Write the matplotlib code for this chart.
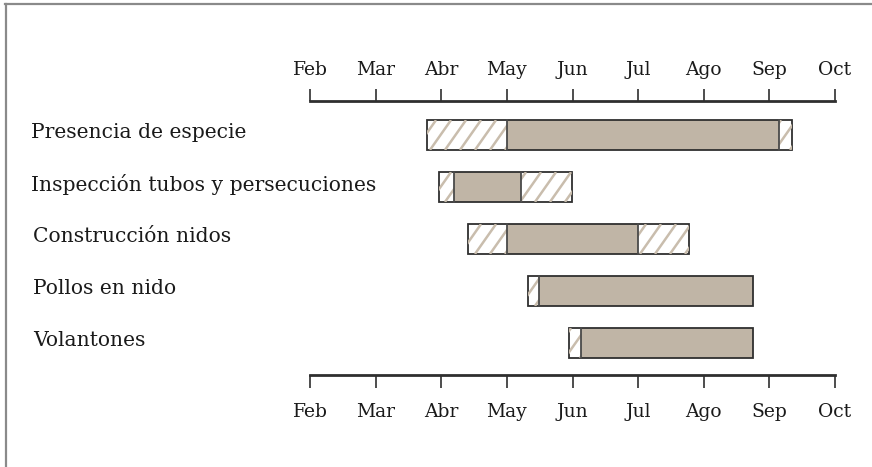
import matplotlib
matplotlib.use("Agg")
import matplotlib.pyplot as plt
from matplotlib.lines import Line2D
from matplotlib.patches import Rectangle
import matplotlib.transforms as mtransforms
import numpy as np

plt.rcParams['font.family'] = ['DejaVu Serif']

months = ["Feb", "Mar", "Abr", "May", "Jun", "Jul", "Ago", "Sep", "Oct"]
activities = ["Presencia de especie", "Inspección tubos y persecuciones",
              "Construcción nidos", "Pollos en nido", "Volantones"]
# month positions (0 = start of Feb)
hatch_start = [1.79, 1.97, 2.41, 3.32, 3.94]
solid_start = [3.00, 2.20, 3.00, 3.49, 4.13]
solid_end = [7.15, 3.22, 5.00, 6.75, 6.75]
hatch_end = [7.34, 3.99, 5.77, 6.75, 6.75]

W, H = 872, 467
fig = plt.figure(figsize=(W / 100, H / 100), dpi=100)
ax = fig.add_axes([310 / W, 1 - 375 / H, 525 / W, 274 / H])

solid_col = '#c0b5a6'
hatch_col = '#c9bdad'
edge_col = '#2f2f2f'
bh = 0.574

xlim = (0, 8)
ylim = (4.615, -0.654)
ax.set_xlim(*xlim)
ax.set_ylim(*ylim)

# pixel scales for the hand-made hatching
ax_w_px = 525.0
ax_h_px = 274.0
px_x = ax_w_px / (xlim[1] - xlim[0])
px_y = ax_h_px / (ylim[0] - ylim[1])
spacing = 15.0 / px_x          # horizontal spacing of hatch lines
lean = 21.0 / px_x             # horizontal shift of a hatch line across the bar


def hatch(x0, x1, yc):
    rect = Rectangle((x0, yc - bh / 2), x1 - x0, bh, facecolor='white',
                     edgecolor='none')
    ax.add_patch(rect)
    k0 = np.floor((x0 - lean) / spacing)
    k1 = np.ceil(x1 / spacing)
    for k in np.arange(k0, k1 + 1):
        xs = k * spacing
        ln, = ax.plot([xs, xs + lean], [yc + bh / 2, yc - bh / 2],
                      color=hatch_col, lw=1.8, solid_capstyle='butt')
        ln.set_clip_path(rect)


for i in range(len(activities)):
    if solid_start[i] > hatch_start[i]:
        hatch(hatch_start[i], solid_start[i], i)
    if hatch_end[i] > solid_end[i]:
        hatch(solid_end[i], hatch_end[i], i)
    ax.barh(i, solid_end[i] - solid_start[i], left=solid_start[i], height=bh,
            color=solid_col, linewidth=0)
    ax.barh(i, hatch_end[i] - hatch_start[i], left=hatch_start[i], height=bh,
            fill=False, edgecolor=edge_col, linewidth=1.3)
    for xv in (solid_start[i], solid_end[i]):
        if hatch_start[i] < xv < hatch_end[i]:
            ax.plot([xv, xv], [i - bh / 2, i + bh / 2], color='#4a4a4a', lw=1.3)

ax.set_xticks(range(len(months)))
ax.set_xticklabels(months)
ax.tick_params(axis='x', which='both', top=True, bottom=True, labeltop=True,
               labelbottom=True, direction='out', length=9, width=1.2,
               color=edge_col, labelsize=13.5, pad=10, labelcolor='#1a1a1a')
ax.set_yticks([])
for s in ('left', 'right'):
    ax.spines[s].set_visible(False)
for s in ('top', 'bottom'):
    ax.spines[s].set_linewidth(2)
    ax.spines[s].set_color(edge_col)
ax.patch.set_visible(False)

shift_top = mtransforms.ScaledTranslation(0, -3 / 72, fig.dpi_scale_trans)
shift_bot = mtransforms.ScaledTranslation(0, -1 / 72, fig.dpi_scale_trans)
for t in ax.xaxis.get_major_ticks():
    t.label2.set_transform(t.label2.get_transform() + shift_top)
    t.label1.set_transform(t.label1.get_transform() + shift_bot)

trans = mtransforms.blended_transform_factory(fig.transFigure, ax.transData)
label_x = [31, 31, 33, 33, 33]
for i, name in enumerate(activities):
    fig.text(label_x[i] / W, i - 0.04, name, transform=trans, fontsize=14.6,
             ha='left', va='center', color='#1a1a1a')

fig.add_artist(Line2D([5 / W, 1], [1 - 4 / H, 1 - 4 / H], color='#8a8a8a', lw=1.6,
                      transform=fig.transFigure))
fig.add_artist(Line2D([5.5 / W, 5.5 / W], [0, 1 - 4 / H], color='#8a8a8a', lw=1.6,
                      transform=fig.transFigure))

fig.savefig("out.png", dpi=100)
